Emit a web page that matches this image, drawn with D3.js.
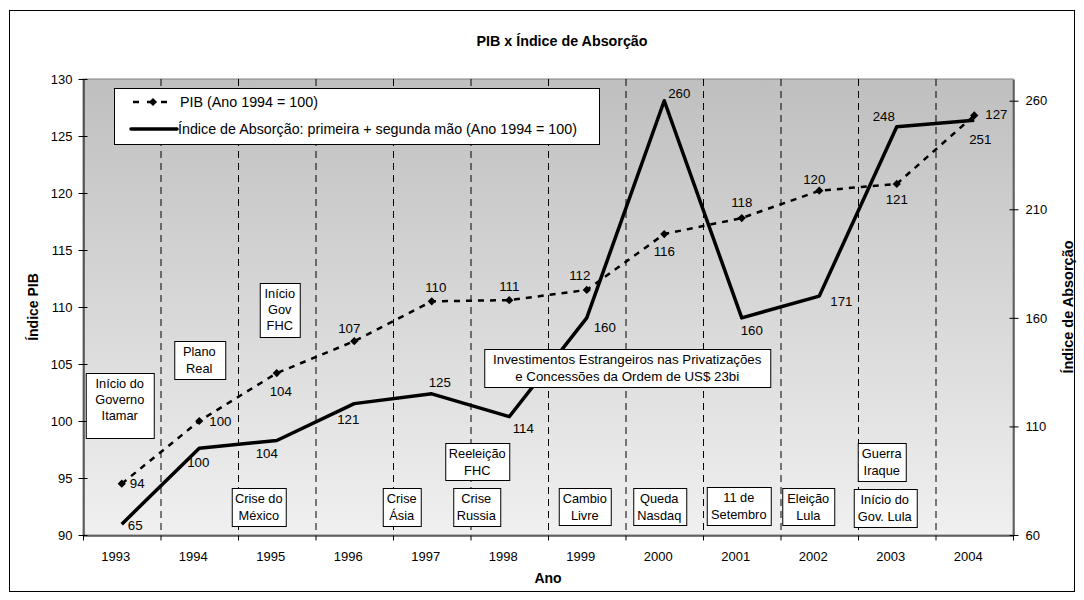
<!DOCTYPE html>
<html>
<head>
<meta charset="utf-8">
<script src="https://cdn.jsdelivr.net/npm/d3@7"></script>
<style>
  body { margin: 0; background: #fff; }
  svg text { font-family: Arial, "Liberation Sans", sans-serif; }
</style>
</head>
<body>
<div id="chart"></div>
<script>
var years = [1993, 1994, 1995, 1996, 1997, 1998, 1999, 2000, 2001, 2002, 2003, 2004];
var pib = [94.5, 100, 104.2, 107, 110.5, 110.6, 111.5, 116.4, 117.8, 120.2, 120.8, 126.8];
var pibLabels = ['94', '100', '104', '107', '110', '111', '112', '116', '118', '120', '121', '127'];
var absorcao = [65, 100, 103.5, 120.5, 125, 114.5, 160, 260, 160, 170, 248, 251];
var absorcaoLabels = ['65', '100', '104', '121', '125', '114', '160', '260', '160', '171', '248', '251'];
var pibTicks = [90, 95, 100, 105, 110, 115, 120, 125, 130];
var absTicks = [60, 110, 160, 210, 260];
var legendNames = ['PIB (Ano 1994 = 100)', 'Índice de Absorção: primeira + segunda mão (Ano 1994 = 100)'];
var notes = [
  {year: 1993, lines: ['Início do', 'Governo', 'Itamar']},
  {year: 1994, lines: ['Plano', 'Real']},
  {year: 1995, lines: ['Início', 'Gov', 'FHC']},
  {year: 1995, lines: ['Crise do', 'México']},
  {year: 1997, lines: ['Crise', 'Ásia']},
  {year: 1998, lines: ['Reeleição', 'FHC']},
  {year: 1998, lines: ['Crise', 'Russia']},
  {year: 1999, lines: ['Cambio', 'Livre']},
  {year: 2000, lines: ['Queda', 'Nasdaq']},
  {year: 2001, lines: ['11 de', 'Setembro']},
  {year: 2002, lines: ['Eleição', 'Lula']},
  {year: 2003, lines: ['Guerra', 'Iraque']},
  {year: 2003, lines: ['Início do', 'Gov. Lula']},
  {year: 2000, lines: ['Investimentos Estrangeiros nas Privatizações', 'e Concessões da Ordem de US$ 23bi']}
];

(function(){
  var W = 1084, H = 600;
  var plot = {left: 83, right: 1013, top: 79, bottom: 535};

  // label placement per point: [anchor, dx, baseline dy]
  var pibPos = [['s', 8, 4.5], ['s', 10, 5], ['m', 4, 23], ['m', -5, -8], ['m', 4, -9.5], ['m', 0, -9.5],
    ['m', -7, -9.5], ['m', 0, 21.5], ['m', 0, -11.5], ['m', -5, -7], ['m', 0, 20.5], ['s', 11, 3.5]];
  var absPos = [['s', 6, 5.5], ['m', -1, 18.5], ['m', -10, 17], ['m', -6, 20], ['m', 8, -6.5], ['m', 14, 16.5],
    ['m', 18, 14.5], ['m', 15, -2.5], ['m', 10, 17.5], ['s', 11, 9.5], ['m', -13, -5.5], ['m', 6, 23.5]];
  // annotation box layout: [dx of box centre from band centre, box top on the PIB axis, width, height]
  var noteLayout = [[-2, 104.21, 68, 65], [0, 107.02, 51, 38], [3, 112.11, 40, 54], [-18, 94.12, 54, 38],
    [-30, 94.12, 38, 38], [-32, 98.07, 64, 37], [-33, 94.12, 47, 38], [-2, 94.12, 52, 37],
    [-5, 94.12, 53, 37], [-3, 94.21, 64, 38], [-11, 94.12, 52, 37], [-15, 98.07, 48, 38],
    [-12, 94.04, 63, 38], [-37, 106.32, 286, 38]];

  var x = d3.scaleBand().domain(years).range([plot.left, plot.right]).paddingInner(0).paddingOuter(0);
  var yL = d3.scaleLinear().domain([90, 130]).range([plot.bottom, plot.top]);
  var yR = d3.scaleLinear().domain([60, 270]).range([plot.bottom, plot.top]);
  var cx = function(d, i) { return x(years[i]) + x.bandwidth() / 2; };

  var svg = d3.select('#chart')
    .append('svg')
    .attr('width', W)
    .attr('height', H);

  var defs = svg.append('defs');
  var grad = defs.append('linearGradient')
    .attr('id', 'bg')
    .attr('x1', 0).attr('y1', 0).attr('x2', 0).attr('y2', 1);
  grad.append('stop').attr('offset', '0%').attr('stop-color', '#bfbfbf');
  grad.append('stop').attr('offset', '100%').attr('stop-color', '#f0f0f0');

  // outer frame
  svg.append('rect')
    .attr('x', 9.5).attr('y', 10.5)
    .attr('width', 1065).attr('height', 581)
    .attr('fill', '#fff')
    .attr('stroke', '#000');

  svg.append('text')
    .attr('x', 562).attr('y', 46)
    .attr('text-anchor', 'middle')
    .attr('font-size', 14.3)
    .attr('font-weight', 'bold')
    .text('PIB x Índice de Absorção');

  // plot area
  svg.append('rect')
    .attr('x', plot.left).attr('y', plot.top)
    .attr('width', plot.right - plot.left).attr('height', plot.bottom - plot.top)
    .attr('fill', 'url(#bg)')
    .attr('stroke', '#808080');

  // vertical dashed separators between years
  svg.append('g')
    .selectAll('line')
    .data(years.slice(1))
    .enter()
    .append('line')
    .attr('x1', function(d) { return x(d) + 0.5; })
    .attr('x2', function(d) { return x(d) + 0.5; })
    .attr('y1', plot.top)
    .attr('y2', plot.bottom)
    .attr('stroke', '#000')
    .attr('stroke-width', 1)
    .attr('stroke-dasharray', '7,5');

  // axes
  var axL = svg.append('g')
    .attr('transform', 'translate(' + (plot.left + 0.5) + ',0)')
    .call(d3.axisLeft(yL).tickValues(pibTicks).tickSize(5).tickPadding(6).tickSizeOuter(0));
  axL.selectAll('.tick line').attr('x1', 4);

  var axR = svg.append('g')
    .attr('transform', 'translate(' + (plot.right + 0.5) + ',0)')
    .call(d3.axisRight(yR).tickValues(absTicks).tickSize(5).tickPadding(7).tickSizeOuter(0));
  axR.selectAll('.tick line').attr('x1', -4);

  var axB = svg.append('g')
    .attr('transform', 'translate(0,' + (plot.bottom + 0.5) + ')')
    .call(d3.axisBottom(x).tickSize(0).tickPadding(16).tickSizeOuter(0));
  axB.selectAll('.tick line').remove();
  axB.selectAll('.tick text').attr('dx', -6);
  axB.selectAll('line.sep')
    .data(years.concat([null]))
    .enter()
    .append('line')
    .attr('class', 'sep')
    .attr('x1', function(d, i) { return plot.left + i * x.step() + 0.5; })
    .attr('x2', function(d, i) { return plot.left + i * x.step() + 0.5; })
    .attr('y1', 0).attr('y2', 5)
    .attr('stroke', '#000');

  svg.selectAll('.domain').attr('stroke', '#000');
  svg.selectAll('.tick text')
    .attr('font-size', 13)
    .attr('font-family', 'Arial, "Liberation Sans", sans-serif')
    .attr('fill', '#000');

  // axis titles
  svg.append('text')
    .attr('transform', 'translate(38,307) rotate(-90)')
    .attr('text-anchor', 'middle')
    .attr('font-size', 14)
    .attr('font-weight', 'bold')
    .text('Índice PIB');
  svg.append('text')
    .attr('transform', 'translate(1073,307) rotate(-90)')
    .attr('text-anchor', 'middle')
    .attr('font-size', 14.5)
    .attr('font-weight', 'bold')
    .text('Índice de Absorção');
  svg.append('text')
    .attr('x', 548).attr('y', 583)
    .attr('text-anchor', 'middle')
    .attr('font-size', 14)
    .attr('font-weight', 'bold')
    .text('Ano');

  // series
  var pibLine = d3.line()
    .x(function(d, i) { return cx(d, i); })
    .y(function(d) { return yL(d); });
  var absLine = d3.line()
    .x(function(d, i) { return cx(d, i); })
    .y(function(d) { return yR(d); });

  svg.append('path')
    .datum(absorcao)
    .attr('d', absLine)
    .attr('fill', 'none')
    .attr('stroke', '#000')
    .attr('stroke-width', 3.5)
    .attr('stroke-linejoin', 'round');

  svg.append('path')
    .datum(pib)
    .attr('d', pibLine)
    .attr('fill', 'none')
    .attr('stroke', '#000')
    .attr('stroke-width', 2.5)
    .attr('stroke-dasharray', '6,6');

  var diamond = d3.symbol().type(d3.symbolSquare).size(34);
  svg.append('g')
    .selectAll('path')
    .data(pib)
    .enter()
    .append('path')
    .attr('d', diamond)
    .attr('transform', function(d, i) { return 'translate(' + cx(d, i) + ',' + yL(d) + ') rotate(45)'; })
    .attr('fill', '#000');

  // annotation boxes (on top of the lines)
  var noteG = svg.append('g')
    .selectAll('g')
    .data(notes)
    .enter()
    .append('g')
    .attr('transform', function(d, i) {
      return 'translate(' + (x(d.year) + x.bandwidth() / 2 + noteLayout[i][0]) + ',' + Math.round(yL(noteLayout[i][1])) + ')';
    });
  noteG.each(function(d, i) {
    var g = d3.select(this);
    var w = noteLayout[i][2], h = noteLayout[i][3];
    var lh = d.lines.length > 2 ? 16.3 : 17.5;
    g.append('rect')
      .attr('x', Math.round(-w / 2) + 0.5).attr('y', 0.5)
      .attr('width', w).attr('height', h)
      .attr('fill', '#fff')
      .attr('stroke', '#000');
    var txt = g.append('text')
      .attr('text-anchor', 'middle')
      .attr('font-size', i === notes.length - 1 ? 13.3 : 12.8);
    d.lines.forEach(function(l, k) {
      txt.append('tspan')
        .attr('x', 0)
        .attr('y', 14.5 + k * lh)
        .text(l);
    });
  });

  function place(sel, pos, ys) {
    sel
      .attr('x', function(d, i) { return cx(d, i) + pos[i][1]; })
      .attr('y', function(d, i) { return ys(d, i) + pos[i][2]; })
      .attr('text-anchor', function(d, i) { return pos[i][0] === 's' ? 'start' : 'middle'; })
      .attr('font-size', 13.3);
  }

  svg.append('g')
    .selectAll('text')
    .data(pibLabels)
    .enter()
    .append('text')
    .text(function(d) { return d; })
    .call(place, pibPos, function(d, i) { return yL(pib[i]); });

  svg.append('g')
    .selectAll('text')
    .data(absorcaoLabels)
    .enter()
    .append('text')
    .text(function(d) { return d; })
    .call(place, absPos, function(d, i) { return yR(absorcao[i]); });

  // legend
  var leg = svg.append('g');
  leg.append('rect')
    .attr('x', 114.5).attr('y', 88.5)
    .attr('width', 485).attr('height', 56)
    .attr('fill', '#fff')
    .attr('stroke', '#000');
  leg.append('line')
    .attr('x1', 133).attr('x2', 173).attr('y1', 102).attr('y2', 102)
    .attr('stroke', '#000').attr('stroke-width', 2.5).attr('stroke-dasharray', '6,8');
  leg.append('path')
    .attr('d', diamond)
    .attr('transform', 'translate(153,102) rotate(45)')
    .attr('fill', '#000');
  leg.append('line')
    .attr('x1', 131).attr('x2', 177).attr('y1', 129).attr('y2', 129)
    .attr('stroke', '#000').attr('stroke-width', 3.5).attr('stroke-linecap', 'round');
  leg.selectAll('text.name')
    .data(legendNames)
    .enter()
    .append('text')
    .attr('class', 'name')
    .attr('x', function(d, i) { return i === 0 ? 180 : 178; })
    .attr('y', function(d, i) { return i === 0 ? 107 : 134; })
    .attr('font-size', 14.3)
    .text(function(d) { return d; });
})();
</script>
</body>
</html>
